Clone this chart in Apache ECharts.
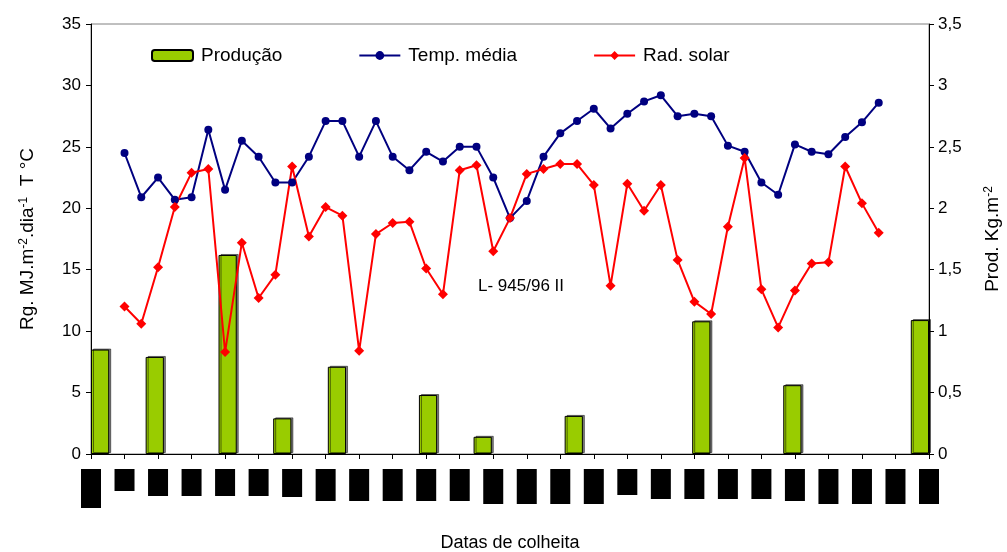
<!DOCTYPE html>
<html>
<head>
<meta charset="utf-8">
<script src="https://cdn.jsdelivr.net/npm/echarts@6/dist/echarts.min.js"></script>
<style>
  html, body { margin: 0; padding: 0; background: #fff; }
  #chart { width: 1007px; height: 552px; }
</style>
</head>
<body>
<div id="chart"></div>
<script>
// harvest slots (46 per series)
const tempMedia = [24.5, 20.9, 22.5, 20.7, 20.9, 26.4, 21.5, 25.5, 24.2, 22.1,
  22.1, 24.2, 27.1, 27.1, 24.2, 27.1, 24.2, 23.1, 24.6, 23.8,
  25.0, 25.0, 22.5, 19.2, 20.6, 24.2, 26.1, 27.1, 28.1, 26.5,
  27.7, 28.7, 29.2, 27.5, 27.7, 27.5, 25.1, 24.6, 22.1, 21.1,
  25.2, 24.6, 24.4, 25.8, 27.0, 28.6];
const radSolar = [12.0, 10.6, 15.2, 20.1, 22.9, 23.2, 8.3, 17.2, 12.7, 14.6,
  23.4, 17.7, 20.1, 19.4, 8.4, 17.9, 18.8, 18.9, 15.1, 13.0,
  23.1, 23.5, 16.5, 19.2, 22.8, 23.2, 23.6, 23.6, 21.9, 13.7,
  22.0, 19.8, 21.9, 15.8, 12.4, 11.4, 18.5, 24.1, 13.4, 10.3,
  13.3, 15.5, 15.6, 23.4, 20.4, 18.0];
const prodSlot = [0, 3, 7, 10, 13, 18, 21, 26, 33, 38, 45];
const prodValues = [0.85, 0.79, 1.62, 0.29, 0.71, 0.48, 0.14, 0.31, 1.08, 0.56, 1.09];
const leftTicks = { min: 0, max: 35, interval: 5 };
const rightTicks = { min: 0, max: 3.5, interval: 0.5 };

// date labels come out as solid black blocks in the original; box heights per tick
const labelBoxHeights = [39, 22, 27, 27, 27, 27, 28, 32, 32, 32, 32, 32, 35,
  35, 35, 35, 26, 30, 30, 30, 30, 32, 35, 35, 35, 35];

const FONT = 'Liberation Sans, Arial, sans-serif';

const barCats = tempMedia.map((v, i) => String(i + 1));
const lineCats = [];
for (let i = 0; i <= 50; i++) lineCats.push(String(i));

const prodData = barCats.map(() => '-');
prodSlot.forEach((s, i) => { prodData[s] = prodValues[i]; });

const pad = (arr) => ['-', '-'].concat(arr, ['-', '-', '-']);

const rich = {};
labelBoxHeights.forEach((h, i) => {
  rich['b' + i] = { width: 20, height: h, lineHeight: h, backgroundColor: '#000', color: '#000' };
});

const chart = echarts.init(document.getElementById('chart'));

chart.setOption({
  animation: false,
  textStyle: { fontFamily: FONT },
  grid: {
    left: 91, right: 78, top: 24, bottom: 98,
    outerBoundsMode: 'none',
    containLabel: false,
    show: true, borderColor: '#808080', borderWidth: 1
  },
  legend: {
    left: 151,
    top: 46,
    padding: 0,
    itemWidth: 41,
    itemHeight: 11,
    itemGap: 76,
    textStyle: { fontSize: 19, color: '#000', fontFamily: FONT, padding: [0, 0, 0, 3] },
    data: [
      { name: 'Produção' },
      { name: 'Temp. média' },
      { name: 'Rad. solar' }
    ]
  },
  graphic: [{
    type: 'text',
    left: 478,
    top: 278,
    style: { text: 'L- 945/96 II', font: '17px ' + FONT, fill: '#000' }
  }],
  xAxis: [{
    type: 'category',
    data: barCats,
    show: false,
    boundaryGap: true
  }, {
    type: 'category',
    data: lineCats,
    boundaryGap: false,
    position: 'bottom',
    name: 'Datas de colheita',
    nameLocation: 'middle',
    nameGap: 80,
    nameTextStyle: { fontSize: 18, color: '#000', fontFamily: FONT },
    axisLine: { lineStyle: { color: '#000', width: 1 } },
    axisTick: { interval: 1, length: 5, lineStyle: { color: '#000' } },
    axisLabel: {
      interval: 1,
      margin: 15,
      verticalAlign: 'top',
      formatter: (v, idx) => '{b' + Math.round(idx / 2) + '| }',
      rich: rich
    },
    splitLine: { show: false }
  }],
  yAxis: [{
    type: 'value',
    min: leftTicks.min, max: leftTicks.max, interval: leftTicks.interval,
    name: 'Rg. MJ.m{sup|-2}.dia{sup|-1}  T °C',
    nameLocation: 'middle',
    nameGap: 53,
    nameTextStyle: {
      fontSize: 19, color: '#000', fontFamily: FONT,
      rich: { sup: { fontSize: 12, verticalAlign: 'top', padding: [0, 0, 8, 0], color: '#000' } }
    },
    axisLine: { show: true, lineStyle: { color: '#000' } },
    axisTick: { show: true, length: 5, lineStyle: { color: '#000' } },
    axisLabel: { fontSize: 17, color: '#000', margin: 10, fontFamily: FONT },
    splitLine: { show: false }
  }, {
    type: 'value',
    position: 'right',
    min: rightTicks.min, max: rightTicks.max, interval: rightTicks.interval,
    name: 'Prod. Kg.m{sup|-2}',
    nameLocation: 'middle',
    nameGap: 54,
    nameTextStyle: {
      fontSize: 19, color: '#000', fontFamily: FONT,
      rich: { sup: { fontSize: 12, verticalAlign: 'top', padding: [0, 0, 8, 0], color: '#000' } }
    },
    axisLine: { show: true, lineStyle: { color: '#000' } },
    axisTick: { show: true, length: 5, lineStyle: { color: '#000' } },
    axisLabel: {
      fontSize: 17, color: '#000', margin: 9, fontFamily: FONT,
      formatter: (v) => String(v).replace('.', ',')
    },
    splitLine: { show: false }
  }],
  series: [{
    name: 'Produção',
    type: 'bar',
    xAxisIndex: 0,
    yAxisIndex: 1,
    data: prodData,
    barWidth: '100%',
    barCategoryGap: 0,
    itemStyle: {
      color: '#99CC00',
      borderColor: '#000',
      borderWidth: 1,
      shadowColor: 'rgba(0,0,0,0.5)',
      shadowOffsetX: 2,
      shadowOffsetY: -1,
      shadowBlur: 0
    }
  }, {
    name: 'Temp. média',
    type: 'line',
    xAxisIndex: 1,
    yAxisIndex: 0,
    data: pad(tempMedia),
    symbol: 'circle',
    symbolSize: 8,
    showAllSymbol: true,
    lineStyle: { color: '#000080', width: 2 },
    itemStyle: { color: '#000080' }
  }, {
    name: 'Rad. solar',
    type: 'line',
    xAxisIndex: 1,
    yAxisIndex: 0,
    data: pad(radSolar),
    symbol: 'diamond',
    symbolSize: 10,
    showAllSymbol: true,
    lineStyle: { color: '#FF0000', width: 2 },
    itemStyle: { color: '#FF0000' }
  }]
});
</script>
</body>
</html>
